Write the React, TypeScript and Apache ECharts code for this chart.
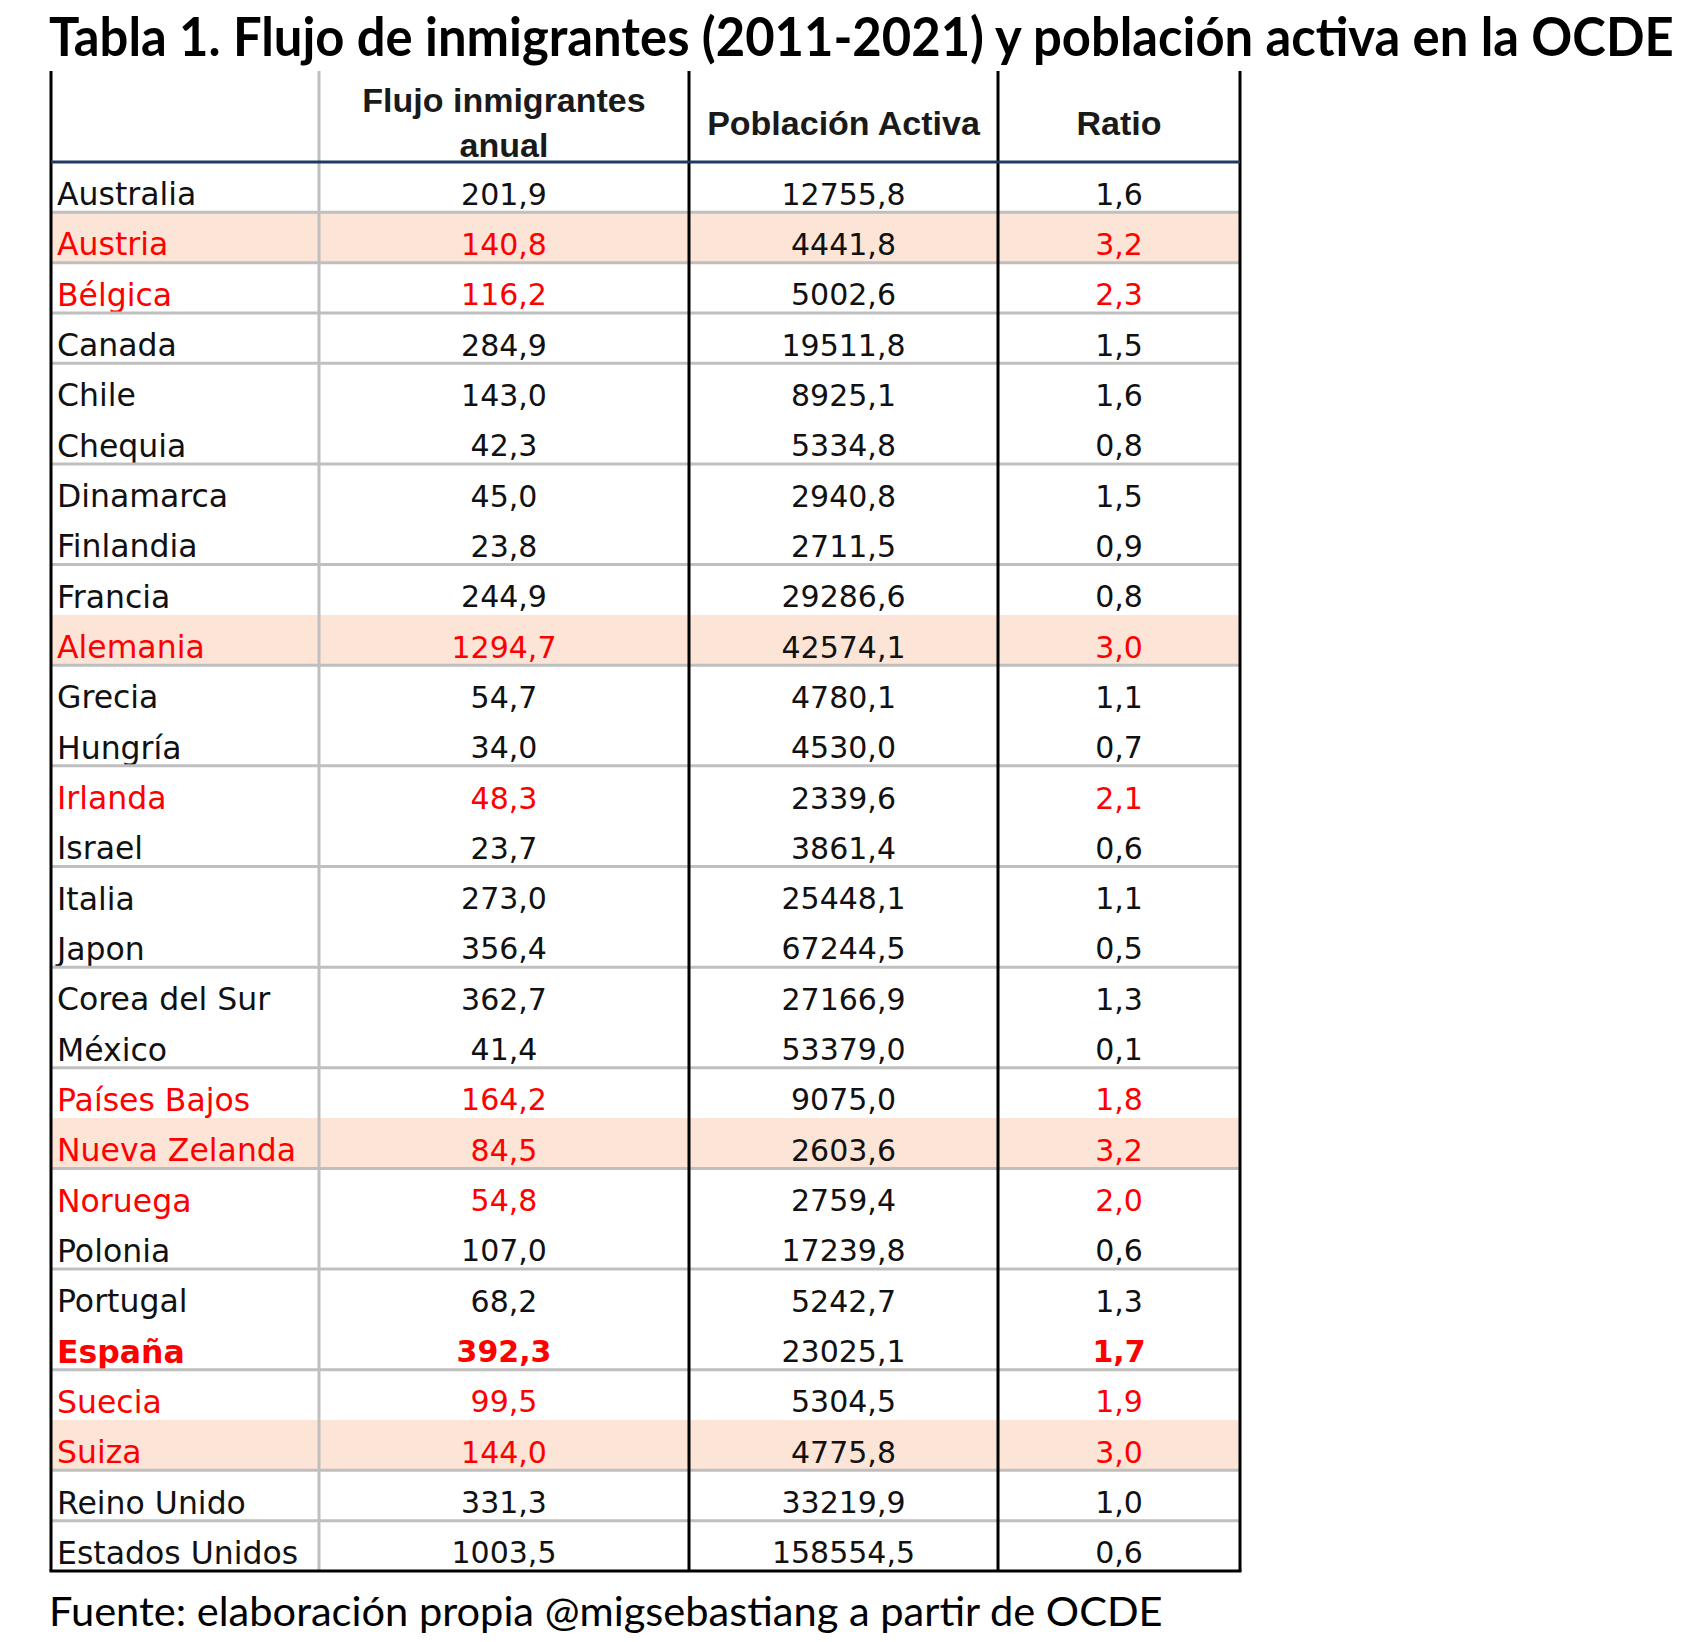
import React, { useEffect, useRef } from "react";
import * as echarts from "echarts";

// ---------- data ----------
const countries = [
  "Australia", "Austria", "Bélgica", "Canada", "Chile", "Chequia", "Dinamarca",
  "Finlandia", "Francia", "Alemania", "Grecia", "Hungría", "Irlanda", "Israel",
  "Italia", "Japon", "Corea del Sur", "México", "Países Bajos", "Nueva Zelanda",
  "Noruega", "Polonia", "Portugal", "España", "Suecia", "Suiza", "Reino Unido",
  "Estados Unidos",
];
const flujoAnual = [
  201.9, 140.8, 116.2, 284.9, 143.0, 42.3, 45.0, 23.8, 244.9, 1294.7, 54.7, 34.0,
  48.3, 23.7, 273.0, 356.4, 362.7, 41.4, 164.2, 84.5, 54.8, 107.0, 68.2, 392.3,
  99.5, 144.0, 331.3, 1003.5,
];
const poblacionActiva = [
  12755.8, 4441.8, 5002.6, 19511.8, 8925.1, 5334.8, 2940.8, 2711.5, 29286.6,
  42574.1, 4780.1, 4530.0, 2339.6, 3861.4, 25448.1, 67244.5, 27166.9, 53379.0,
  9075.0, 2603.6, 2759.4, 17239.8, 5242.7, 23025.1, 5304.5, 4775.8, 33219.9,
  158554.5,
];
const ratio = [
  1.6, 3.2, 2.3, 1.5, 1.6, 0.8, 1.5, 0.9, 0.8, 3.0, 1.1, 0.7, 2.1, 0.6, 1.1, 0.5,
  1.3, 0.1, 1.8, 3.2, 2.0, 0.6, 1.3, 1.7, 1.9, 3.0, 1.0, 0.6,
];
const columnHeaders = [["Flujo inmigrantes", "anual"], ["Población Activa"], ["Ratio"]];
const highlightedCountries = ["Austria", "Alemania", "Nueva Zelanda", "Suiza"];
const redCountries = [
  "Austria", "Bélgica", "Alemania", "Irlanda", "Países Bajos", "Nueva Zelanda",
  "Noruega", "España", "Suecia", "Suiza",
];
const boldCountries = ["España"];
const countriesWithRuleBelow = [
  "Australia", "Austria", "Bélgica", "Canada", "Chequia", "Finlandia", "Alemania",
  "Hungría", "Israel", "Japon", "México", "Nueva Zelanda", "Polonia", "España",
  "Suiza", "Reino Unido",
];
const titleText = "Tabla 1. Flujo de inmigrantes (2011-2021) y población activa en la OCDE";
const sourceText = "Fuente: elaboración propia @migsebastiang a partir de OCDE";

// ---------- layout ----------
const W = 1706;
const H = 1642;
const GRID_LEFT = 51;
const GRID_TOP = 162;
const GRID_W = 1189;
const GRID_H = 1409;
const TABLE_TOP = 71;
const COL_EDGES = [0, 268, 638, 947, 1189];
const BODY_FONT = '"DejaVu Sans", sans-serif';
const fmt = (v: number) => v.toFixed(1).replace(".", ",");

export default function App() {
  const ref = useRef<HTMLDivElement>(null);

  useEffect(() => {
    if (!ref.current) return;
    const chart = echarts.init(ref.current, null, { renderer: "svg" });

    const rowData = countries.map((_, i) => [0, i]);

    const colCenter = (k: number) => GRID_LEFT + (COL_EDGES[k] + COL_EDGES[k + 1]) / 2;

    const headerTexts: any[] = [];
    columnHeaders.forEach((lines, k) => {
      const cx = colCenter(k + 1);
      const ys = lines.length === 2 ? [100, 145] : [123];
      lines.forEach((t, j) => {
        headerTexts.push({
          type: "text",
          x: cx,
          y: ys[j],
          style: {
            text: t,
            align: "center",
            verticalAlign: "middle",
            fill: "#1a1a1a",
            fontFamily: '"Liberation Sans", Arial, sans-serif',
            fontWeight: "bold",
            fontSize: 34,
          },
        });
      });
    });

    const borderLines: any[] = [];
    COL_EDGES.forEach((e, k) => {
      borderLines.push({
        type: "line",
        shape: { x1: GRID_LEFT + e, y1: TABLE_TOP, x2: GRID_LEFT + e, y2: GRID_TOP + GRID_H },
        style: { stroke: k === 1 ? "#bfbfbf" : "#000", lineWidth: 3 },
        z: 100,
      });
    });
    borderLines.push({
      type: "line",
      shape: { x1: GRID_LEFT, y1: GRID_TOP, x2: GRID_LEFT + GRID_W, y2: GRID_TOP },
      style: { stroke: "#1f3864", lineWidth: 3 },
      z: 101,
    });
    borderLines.push({
      type: "line",
      shape: { x1: GRID_LEFT - 1.5, y1: GRID_TOP + GRID_H, x2: GRID_LEFT + GRID_W + 1.5, y2: GRID_TOP + GRID_H },
      style: { stroke: "#000", lineWidth: 3 },
      z: 101,
    });

    chart.setOption({
      animation: false,
      backgroundColor: "#ffffff",
      grid: { left: GRID_LEFT, top: GRID_TOP, width: GRID_W, height: GRID_H, containLabel: false },
      xAxis: { type: "value", min: 0, max: COL_EDGES[4], show: false },
      yAxis: { type: "category", data: countries, inverse: true, show: false },
      series: [
        {
          type: "custom",
          clip: false,
          data: rowData,
          encode: { x: 0, y: 1 },
          renderItem: (params: any, api: any) => {
            const i = api.value(1);
            const c = api.coord([0, i]);
            const h = api.size([0, 1])[1];
            const top = c[1] - h / 2;
            const xAt = (v: number) => api.coord([v, i])[0];
            const left = xAt(COL_EDGES[0]);
            const right = xAt(COL_EDGES[4]);
            const name = countries[i];
            const red = redCountries.includes(name);
            const bold = boldCountries.includes(name);
            const ty = top + h / 2 + 7;
            const children: any[] = [];
            if (highlightedCountries.includes(name)) {
              children.push({
                type: "rect",
                shape: { x: left, y: top, width: right - left, height: h },
                style: { fill: "#fce4d6" },
                z2: 0,
              });
            }
            const mk = (text: string, x: number, align: string, isRed: boolean, isBold: boolean, size: number) => ({
              type: "text",
              z2: 5,
              style: {
                text,
                x,
                y: ty,
                align,
                verticalAlign: "middle",
                fill: isRed ? "#ff0000" : "#111111",
                fontFamily: BODY_FONT,
                fontWeight: isBold ? "bold" : "normal",
                fontSize: size,
              },
            });
            const mid = (k: number) => (xAt(COL_EDGES[k]) + xAt(COL_EDGES[k + 1])) / 2;
            children.push(mk(name, left + 6, "left", red, bold, 31.5));
            children.push(mk(fmt(flujoAnual[i]), mid(1), "center", red, bold, 30));
            children.push(mk(fmt(poblacionActiva[i]), mid(2), "center", false, false, 30));
            children.push(mk(fmt(ratio[i]), mid(3), "center", red, bold, 30));
            if (countriesWithRuleBelow.includes(name) && i < countries.length - 1) {
              children.push({
                type: "line",
                z2: 10,
                shape: { x1: left, y1: top + h, x2: right, y2: top + h },
                style: { stroke: "#bfbfbf", lineWidth: 3 },
              });
            }
            return { type: "group", children };
          },
        },
      ],
      graphic: [
        {
          type: "text",
          x: GRID_LEFT - 2,
          y: 35,
          scaleX: 0.94,
          style: {
            text: titleText,
            align: "left",
            verticalAlign: "middle",
            fill: "#000",
            fontFamily: "Lato, sans-serif",
            fontWeight: "bold",
            fontSize: 54,
          },
        },
        {
          type: "text",
          x: GRID_LEFT - 2,
          y: 1611,
          scaleX: 1.04,
          style: {
            text: sourceText,
            align: "left",
            verticalAlign: "middle",
            fill: "#000",
            fontFamily: "Lato, sans-serif",
            fontWeight: "normal",
            fontSize: 40,
          },
        },
        ...headerTexts,
        ...borderLines,
      ],
    });

    return () => chart.dispose();
  }, []);

  return (
    <div
      ref={ref}
      style={{ position: "absolute", left: 0, top: 0, width: W, height: H, background: "#fff" }}
    />
  );
}
